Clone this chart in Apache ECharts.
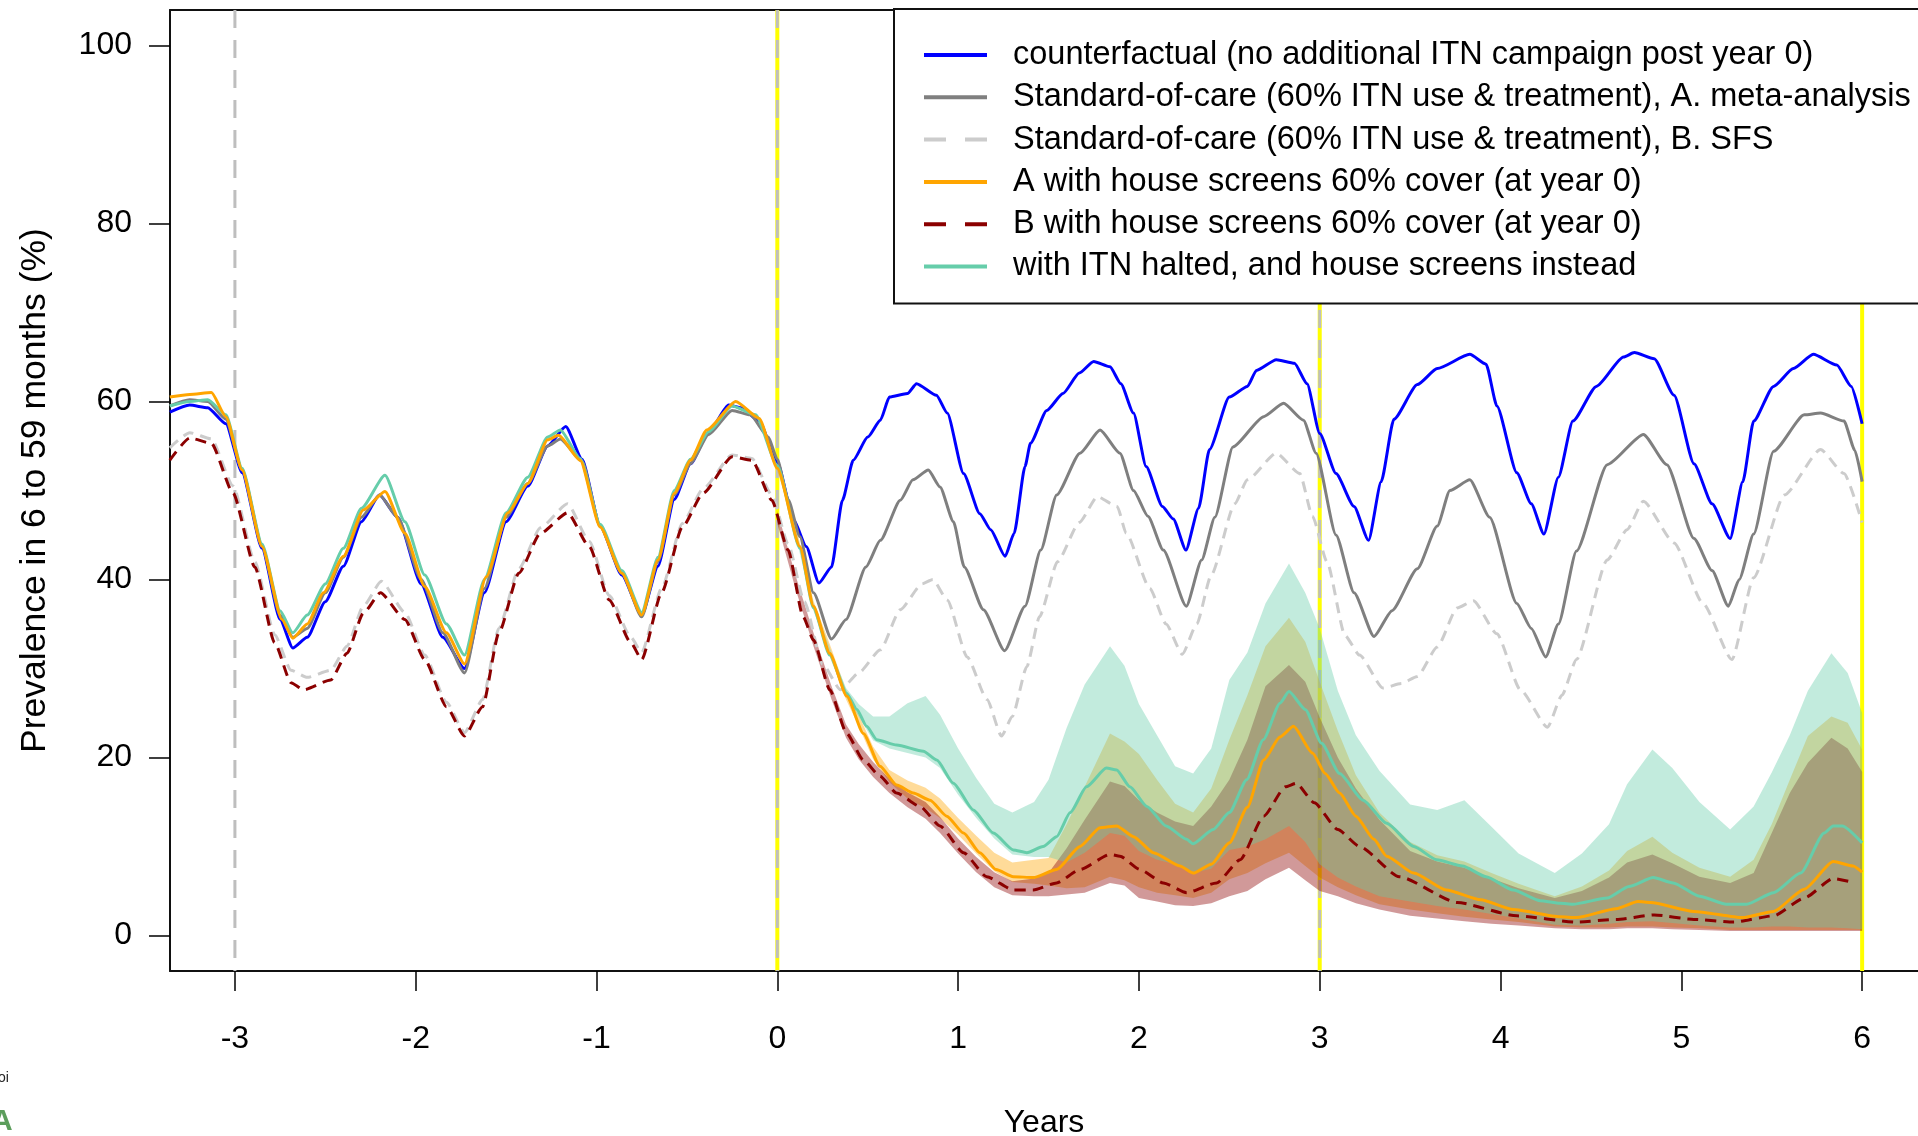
<!DOCTYPE html>
<html><head><meta charset="utf-8">
<script src="https://cdn.jsdelivr.net/npm/echarts@6/dist/echarts.min.js"></script>
<style>html,body{margin:0;padding:0;background:#fff}#c{width:1918px;height:1136px}</style>
</head><body><div id="c"></div>
<script>
// ---------- tick labels ----------
const xTickValues = [-3,-2,-1,0,1,2,3,4,5,6];
const yTickValues = [0,20,40,60,80,100];
const seriesNames = [
  'counterfactual (no additional ITN campaign post year 0)',
  'Standard-of-care (60% ITN use & treatment), A. meta-analysis',
  'Standard-of-care (60% ITN use & treatment), B. SFS',
  'A with house screens 60% cover (at year 0)',
  'B with house screens 60% cover (at year 0)',
  'with ITN halted, and house screens instead'
];
const vYellowYears = [0,3,6];
const vGrayYears = [-3,0,3];

// ---------- counterfactual (blue) ----------
const blueT = [-3.36,-3.25,-3.15,-3.05,-2.96,-2.85,-2.75,-2.68,-2.6,-2.5,-2.4,-2.3,-2.2,-2.1,-1.97,-1.85,-1.73,-1.62,-1.5,-1.38,-1.27,-1.17,-1.08,-0.98,-0.86,-0.75,-0.66,-0.57,-0.48,-0.38,-0.27,-0.2,-0.1,0,
0.09,0.16,0.23,0.3,0.36,0.42,0.5,0.57,0.62,0.72,0.77,0.88,0.94,1.03,1.12,1.18,1.26,1.31,1.37,1.4,1.49,1.58,1.67,1.75,1.84,1.9,1.97,2.04,2.13,2.19,2.26,2.33,2.39,2.5,2.6,2.65,2.76,2.86,2.93,3.0,3.09,3.19,3.27,3.34,3.41,3.54,3.65,3.83,3.92,3.98,4.09,4.17,4.24,4.32,4.4,4.53,4.68,4.74,4.85,4.96,5.07,5.17,5.27,5.34,5.4,5.51,5.62,5.73,5.86,5.94,6.0];
const blueV = [58.8,59.6,59.3,57.5,52,43.5,35.5,32.3,33.5,37.5,41.5,46.5,49.5,47,39.5,33.5,30,38.5,46.5,50.5,55,57.2,53.5,46,40.5,36,41.5,49,53,56.5,59.6,59.3,57.8,53.2,
46.7,43.7,39.6,41.4,48.9,53.4,56,57.9,60.5,60.9,62,60.7,58.7,51.9,47.4,45.6,42.6,45.2,52.7,55.3,59,60.9,63.2,64.5,63.9,62,58.7,52.7,48.2,46.8,43.3,48,54.6,60.5,61.7,63.5,64.7,64.3,62,56.4,51.9,48.2,44.4,51,58,61.9,63.7,65.3,64.2,59.5,52,48.5,45.1,51.5,57.8,61.7,65,65.5,64.8,60.7,53,48.5,44.6,51,57.8,61.7,63.7,65.3,64.1,61.7,57.5];

// ---------- standard of care A (grey) ----------
const grayT = [-3.36,-3.25,-3.15,-3.05,-2.96,-2.85,-2.75,-2.68,-2.6,-2.5,-2.4,-2.3,-2.2,-2.1,-1.97,-1.85,-1.73,-1.62,-1.5,-1.38,-1.27,-1.2,-1.08,-0.98,-0.86,-0.75,-0.66,-0.57,-0.48,-0.38,-0.25,-0.15,-0.05,0,
0.06,0.125,0.2,0.3,0.38,0.49,0.57,0.68,0.75,0.835,0.9,0.974,1.034,1.14,1.257,1.37,1.457,1.545,1.674,1.785,1.895,1.97,2.05,2.135,2.262,2.347,2.42,2.52,2.69,2.8,2.91,2.98,3.09,3.19,3.3,3.4,3.54,3.65,3.72,3.83,3.94,4.09,4.17,4.25,4.32,4.42,4.59,4.79,4.92,5.07,5.17,5.26,5.32,5.4,5.51,5.68,5.77,5.9,5.96,6.0];
const grayV = [59.5,60.2,60,58,52.3,43.8,36,33.5,34.5,38.5,42.5,47,49.5,47,40,34,29.5,39,47,50.8,55,55.8,53.3,46,40.7,35.8,42,49.5,53,56.3,59,58.5,56,53.5,
49,44.8,38.5,33.3,35.5,41.4,44.4,48.9,51.2,52.3,50.4,46.5,41.4,36.6,32,37,43.3,49.5,54.2,56.8,54.2,50,47.1,43.3,37,42.2,47,54.9,58.3,59.8,57.9,54.2,45,38.5,33.6,36.5,41.2,46,50,51.2,47,37.3,34.5,31.3,35,43.2,52.9,56.3,52.9,44.6,41,37,40,45.1,54.4,58.5,58.7,57.8,54.5,51];

// ---------- standard of care B (light grey dashed) ----------
const lgrayT = [-3.36,-3.25,-3.13,-3.01,-2.89,-2.78,-2.69,-2.6,-2.47,-2.38,-2.29,-2.19,-2.06,-1.95,-1.83,-1.73,-1.63,-1.54,-1.43,-1.31,-1.16,-1.04,-0.93,-0.81,-0.75,-0.64,-0.525,-0.41,-0.25,-0.14,-0.03,0.06,
0.15,0.25,0.35,0.45,0.57,0.68,0.8,0.86,0.94,1.05,1.16,1.24,1.3,1.38,1.45,1.55,1.67,1.77,1.88,1.93,2.06,2.15,2.24,2.32,2.4,2.53,2.6,2.76,2.89,2.96,3.04,3.14,3.22,3.35,3.45,3.54,3.65,3.76,3.85,3.98,4.11,4.26,4.34,4.42,4.59,4.7,4.79,4.96,5.12,5.28,5.4,5.57,5.77,5.9,6.0];
const lgrayV = [54.8,56.5,55.8,50.5,42,33.8,29.8,29,29.8,32.5,37,39.8,36.3,31.5,26.2,22.8,26.5,34.5,41.2,45.8,48.5,44.3,38.2,33.5,31.8,39,46.3,50.2,54,53.6,49.5,44,
37.5,30.5,27.6,29.5,32.1,36.6,39.5,40,37.7,31.3,26.5,22.4,24.6,30.2,35.8,42,46.4,49.3,48.2,45.2,39,35,31.6,35,40.5,48.5,51.2,54.2,51.9,47.1,42,33.7,31.5,27.8,28.3,29.1,32.4,36.8,37.6,33.9,27.6,23.4,27,31,42.2,45.6,48.8,44.1,37.3,31,40.2,49.5,54.6,51.9,46.4];

// ---------- A with house screens (orange) ----------
const orangeT = [-3.36,-3.25,-3.13,-3.05,-2.96,-2.85,-2.74,-2.68,-2.6,-2.51,-2.4,-2.29,-2.17,-2.06,-1.95,-1.83,-1.73,-1.61,-1.49,-1.38,-1.27,-1.21,-1.09,-0.98,-0.86,-0.75,-0.66,-0.57,-0.48,-0.39,-0.23,-0.1,0,
0.125,0.2,0.29,0.384,0.476,0.568,0.66,0.752,0.845,0.937,1.03,1.12,1.21,1.305,1.416,1.545,1.674,1.785,1.877,1.97,2.08,2.227,2.3,2.4,2.5,2.6,2.69,2.78,2.855,2.96,3.03,3.11,3.2,3.3,3.37,3.52,3.7,3.89,4.07,4.33,4.42,4.64,4.76,4.83,5.07,5.34,5.51,5.68,5.84,5.95,6.0];
const orangeV = [60.5,60.8,61,58.3,52.3,43.7,35.5,33.4,35,38.5,42.6,47.8,49.9,45.2,39.2,34,30.5,40.3,47.5,50.8,55.7,56.2,53.4,45.9,40.7,36,42.2,49.7,53.4,56.8,60,58.1,52.5,
43.7,37,31.7,26.9,22.7,19,16.9,16,15.2,13.4,11.5,9.3,7.4,6.6,6.5,7.4,10,12.1,12.3,11.1,9.3,7.8,7.0,8,10.4,14.4,19.7,22.3,23.5,20.5,18.2,16,13.4,10.8,8.9,7.0,5.1,4.0,2.9,2.1,2.0,3.0,3.8,3.7,2.7,2.0,2.7,5.2,8.3,7.8,7.1];

// ---------- B with house screens (dark red dashed) ----------
const redT = [-3.36,-3.25,-3.13,-3.01,-2.89,-2.78,-2.69,-2.62,-2.47,-2.38,-2.29,-2.195,-2.06,-1.95,-1.83,-1.73,-1.63,-1.54,-1.43,-1.31,-1.16,-1.04,-0.93,-0.81,-0.75,-0.64,-0.525,-0.41,-0.25,-0.14,-0.03,
0.06,0.143,0.2,0.29,0.384,0.476,0.568,0.66,0.789,0.9,1.03,1.158,1.305,1.416,1.545,1.674,1.84,1.895,2.006,2.135,2.264,2.43,2.56,2.69,2.81,2.87,2.97,3.1,3.22,3.44,3.76,4.09,4.42,4.64,4.85,5.07,5.29,5.51,5.68,5.84,5.96];
const redV = [53.4,55.9,55.3,49.7,41.4,32.9,28.4,27.6,28.7,31.7,36.2,38.5,35.5,31,25.7,22.4,25.7,34,40.7,45.2,47.5,43.7,37.7,32.9,31,38.5,45.9,49.7,53.8,53.4,48.9,
43.3,35.8,33.2,27.6,22.7,19.7,17.9,16,14.5,12.3,9.3,6.6,5.1,5.1,5.9,7.4,9.1,8.9,7.4,5.9,4.8,5.9,8.5,13.4,16.7,17.1,14.9,11.9,10,6.6,3.7,2.2,1.5,1.8,2.3,1.8,1.5,2.2,4.2,6.4,5.9];

// ---------- ITN halted, house screens (aquamarine) ----------
const tealT = [-3.36,-3.25,-3.15,-3.05,-2.96,-2.85,-2.75,-2.68,-2.6,-2.5,-2.4,-2.3,-2.17,-2.06,-1.95,-1.83,-1.73,-1.62,-1.5,-1.38,-1.27,-1.2,-1.09,-0.98,-0.86,-0.75,-0.66,-0.57,-0.48,-0.38,-0.25,-0.12,0,
0.125,0.2,0.29,0.384,0.44,0.494,0.55,0.66,0.808,0.882,0.974,1.084,1.195,1.305,1.38,1.47,1.545,1.62,1.71,1.82,1.877,1.95,2.044,2.15,2.264,2.3,2.41,2.5,2.596,2.688,2.78,2.83,2.92,3.01,3.11,3.24,3.37,3.52,3.647,3.79,3.92,4.07,4.22,4.33,4.4,4.59,4.71,4.845,4.955,5.1,5.25,5.36,5.51,5.66,5.79,5.84,5.89,6.0];
const tealV = [59.5,60,60.2,58.5,52.5,44,36.5,34,36,39.5,43.5,48,51.7,46.5,40.5,35,31.5,40,47.5,51.5,56,56.8,53.6,46.2,41,36.3,42.5,50,53.5,56.6,59.5,58.5,52.8,
43.5,36.8,31.5,27.2,25.4,23.5,22,21.4,20.7,19.7,17.1,14.1,11.5,9.6,9.3,10,11.1,13.8,16.7,18.8,18.6,16.7,14.5,12.3,10.8,10.3,11.9,13.8,17.5,22,26.1,27.4,25.4,21.6,18.2,15.2,12.6,10,8.5,7.8,6.6,5.1,3.9,3.6,3.5,4.2,5.5,6.5,5.9,4.4,3.5,3.5,4.8,7.0,11.5,12.3,12.3,10.4];

// ---------- uncertainty ranges (post year 0) ----------
const bandT = [0,0.1,0.2,0.3,0.38,0.45,0.53,0.62,0.72,0.82,0.9,1.0,1.1,1.2,1.3,1.42,1.5,1.6,1.7,1.84,1.92,2.0,2.1,2.2,2.3,2.4,2.5,2.6,2.7,2.83,2.92,3.0,3.1,3.2,3.33,3.5,3.65,3.8,3.95,4.1,4.3,4.45,4.6,4.7,4.84,4.95,5.1,5.27,5.4,5.5,5.6,5.7,5.83,5.92,6.0];
const tealHi = [53,45.8,37.3,31.8,27.8, 26,24.6,24.6,26.1,26.9, 24.8,21,17.7,14.8,13.8, 15,17.5,23.3,28.2,32.5, 30.3,26,22.5,19,18.2, 21,28.7,31.8,37.3,41.8, 38.5,34.5,27.5,22.5,18.5, 14.7,14.1,15.2,12.2,9.2, 7.0,9.2,12.5,17,20.9, 18.8,15,11.9,14.5,18.3, 22.5,27.5,31.7,29.5,25];
const tealLo = [52.5,45,36.5,30.8,26.8, 24.6,21.9,21,20.5,20.0, 18.8,15.8,13.2,10.9,9.1, 8.8,8.8,8.2,9.3,11.5, 11.2,9.5,8.5,8,7.0, 7.5,9.6,10,10.8,12.3, 10.5,8,6.5,5.5,4.4, 3.8,3.3,2.9,2.4,1.9, 1.2,1.1,1.3,1.5,1.6, 1.4,1.1,0.9,0.9,1.0, 1.0,0.9,0.9,0.8,0.7];
const orangeHi = [52.8,46.2,37.6,32.2,27.6, 24.8,21.2,18.6,17.4,16.6, 15.4,13.2,11.2,9.3,8.2, 8.5,8.7,12.5,16.7,22.7, 21.8,20.4,17.5,14.8,13.8, 16.5,22,27,32.5,35.7, 33,28.5,23,18,13.8, 10.5,9.0,8.3,7.0,5.8, 4.4,5.5,7.3,9.5,11.1, 9.3,7.6,6.6,8.5,12.5, 17.5,22.4,24.6,23.9,20.9];
const orangeLo = [52.2,45.6,36.6,30.8,26.5, 23.5,19.8,17.2,15.4,14.3, 13.2,11.3,9.2,7.2,6.0, 5.8,5.6,5.3,5.4,6.6, 6.2,5.4,4.8,4.5,4.2, 4.8,6.3,7.0,8.1,9.3, 7.8,6.5,5.4,4.5,3.5, 2.9,2.5,2.1,1.8,1.5, 1.0,0.9,0.9,1.0,1.0, 0.9,0.8,0.6,0.6,0.6, 0.6,0.6,0.6,0.6,0.6];
const redHi = [47.7,40.5,34,28,23.7, 21.5,19.5,17.6,16.1,15, 13.3,10.9,8.8,7.1,6.1, 6.4,7.0,9.8,13.0,17.3, 16.8,15.2,13.8,12.8,12.3, 14.5,17.5,22,28,30.4, 28.5,24.5,20,16.5,13, 9.5,8.3,7.6,6.4,5.3, 4.2,5.0,6.5,8.2,9.1, 8.1,6.6,5.9,7.0,11.5, 16,19.4,22.2,21,18.4];
const redLo = [46.3,39,32.5,26.5,22.2, 19.8,17.8,16,14.4,13.1, 11.5,9.2,7.1,5.4,4.5, 4.4,4.4,4.6,4.8,5.9, 5.6,4.2,3.8,3.4,3.3, 3.6,4.4,5.0,6.3,7.6, 6.2,5.0,4.4,3.6,2.9, 2.2,1.9,1.6,1.3,1.1, 0.8,0.7,0.7,0.8,0.8, 0.7,0.6,0.5,0.5,0.5, 0.5,0.5,0.5,0.5,0.5];

// ---------- chart ----------
const FONT = '"Liberation Sans", Arial, Helvetica, sans-serif';
const X_MIN = -3.359, X_MAX = 6.309, Y_MIN = -4, Y_MAX = 104;
const pairs = (t, v) => t.map((x, i) => [x, v[i]]);

function lineSeries(name, t, v, color, dash) {
  return {
    name, type: 'line', data: pairs(t, v), symbol: 'none',
    smooth: 0.2, smoothMonotone: 'x',
    lineStyle: { color, width: 3, type: dash || 'solid', cap: 'butt' },
    itemStyle: { color }, emphasis: { disabled: true }, silent: true
  };
}
function bandSeries(lo, hi, color) {
  return {
    type: 'custom', silent: true, data: [[bandT[0], lo[0]]],
    renderItem(params, api) {
      if (params.dataIndex !== 0) return;
      const pts = [];
      for (let i = 0; i < bandT.length; i++) pts.push(api.coord([bandT[i], hi[i]]));
      for (let i = bandT.length - 1; i >= 0; i--) pts.push(api.coord([bandT[i], lo[i]]));
      return { type: 'polygon', shape: { points: pts }, style: { fill: color } };
    }
  };
}
function vlineSeries(xs, color, width, dash) {
  return {
    type: 'custom', silent: true, data: xs.map(x => [x, 0]),
    renderItem(params, api) {
      const cs = params.coordSys;
      const p = api.coord([api.value(0), 0]);
      return { type: 'line', shape: { x1: p[0], y1: cs.y, x2: p[0], y2: cs.y + cs.height },
               style: { stroke: color, lineWidth: width, lineDash: dash || null } };
    }
  };
}

const axisLineStyle = { color: '#111', width: 2 };
const chart = echarts.init(document.getElementById('c'), null, { renderer: 'canvas' });
chart.setOption({
  animation: false,
  backgroundColor: '#fff',
  grid: { left: 170, top: 10, right: 0, bottom: 165, containLabel: false, outerBoundsMode: 'none' },
  xAxis: [{
    type: 'value', min: X_MIN, max: X_MAX, position: 'bottom',
    axisLine: { show: true, onZero: false, lineStyle: axisLineStyle },
    axisTick: { show: true, length: 20, customValues: xTickValues, lineStyle: { color: '#000', width: 1.5 } },
    axisLabel: { customValues: xTickValues, margin: 52, fontSize: 32, color: '#000', fontFamily: FONT },
    splitLine: { show: false },
    name: 'Years', nameLocation: 'middle', nameGap: 136,
    nameTextStyle: { fontSize: 32, color: '#000', fontFamily: FONT }
  }, {
    type: 'value', min: X_MIN, max: X_MAX, position: 'top',
    axisLine: { show: true, onZero: false, lineStyle: axisLineStyle },
    axisTick: { show: false }, axisLabel: { show: false }, splitLine: { show: false }
  }],
  yAxis: {
    type: 'value', min: Y_MIN, max: Y_MAX,
    axisLine: { show: true, onZero: false, lineStyle: axisLineStyle },
    axisTick: { show: true, length: 21, customValues: yTickValues, lineStyle: { color: '#000', width: 1.5 } },
    axisLabel: { customValues: yTickValues, margin: 38, fontSize: 32, color: '#000', fontFamily: FONT },
    splitLine: { show: false },
    name: 'Prevalence in 6 to 59 months (%)', nameLocation: 'middle', nameGap: 117, nameRotate: 90,
    nameTextStyle: { fontSize: 35.5, color: '#000', fontFamily: FONT }
  },
  legend: {
    orient: 'vertical', left: 894, top: 9,
    padding: [28, 40, 19, 28],
    itemWidth: 63, itemHeight: 14, itemGap: 6.3,
    borderColor: '#111', borderWidth: 2, backgroundColor: '#fff',
    selectedMode: false,
    itemStyle: { opacity: 0 },
    textStyle: { fontSize: 32.5, fontFamily: FONT, color: '#000', lineHeight: 36, padding: [0, 0, 0, 21] },
    lineStyle: { width: 4 },
    data: [
      { name: seriesNames[0] },
      { name: seriesNames[1] },
      { name: seriesNames[2], lineStyle: { type: [22, 19] } },
      { name: seriesNames[3] },
      { name: seriesNames[4], lineStyle: { type: [22, 19] } },
      { name: seriesNames[5] }
    ]
  },
  graphic: [
    { type: 'text', x: -2, y: 1071, style: { text: 'oi', font: '14px ' + FONT, fill: '#222' } },
    { type: 'text', x: -9, y: 1107, style: { text: 'A', font: 'bold 30px ' + FONT, fill: '#5c9e5c' } }
  ],
  series: [
    vlineSeries(vYellowYears, '#ffff00', 4),
    vlineSeries(vGrayYears, '#bebebe', 3, [18, 12]),
    lineSeries(seriesNames[0], blueT, blueV, '#0000ff'),
    lineSeries(seriesNames[1], grayT, grayV, '#7f7f7f'),
    lineSeries(seriesNames[2], lgrayT, lgrayV, '#cccccc', [11, 7]),
    bandSeries(orangeLo, orangeHi, 'rgba(255,165,0,0.4)'),
    bandSeries(redLo, redHi, 'rgba(139,0,0,0.4)'),
    lineSeries(seriesNames[4], redT, redV, '#8b0000', [11, 7]),
    bandSeries(tealLo, tealHi, 'rgba(102,205,170,0.4)'),
    lineSeries(seriesNames[5], tealT, tealV, '#66cdaa'),
    lineSeries(seriesNames[3], orangeT, orangeV, '#ffa500')
  ]
});
</script>
</body></html>
